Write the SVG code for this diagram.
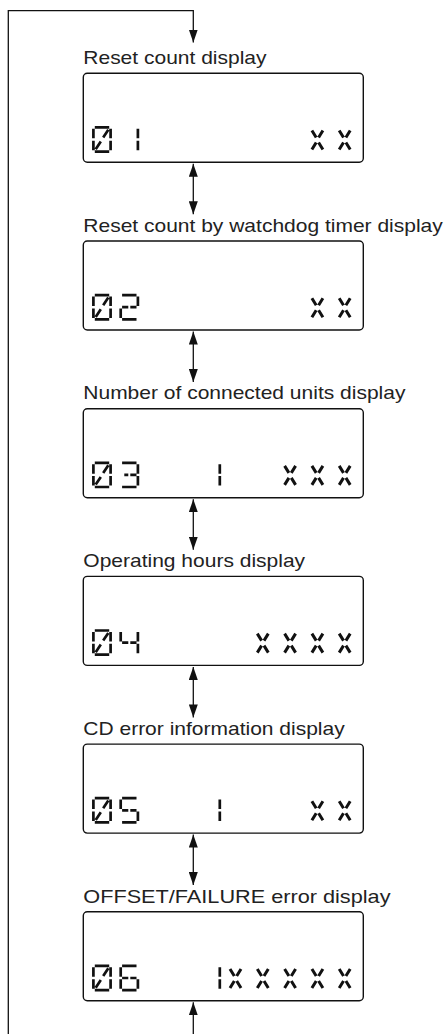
<svg xmlns="http://www.w3.org/2000/svg" xmlns:xlink="http://www.w3.org/1999/xlink" width="447" height="1034" viewBox="0 0 447 1034">
  <style>
    .lbl { font-family: "Liberation Sans", Arial, sans-serif; font-size: 18.6px; fill: #222; }
    .panel { fill: #fff; stroke: #111; stroke-width: 1.4; }
    .seg { stroke: #111; stroke-width: 2.7; stroke-linecap: butt; fill: none; }
    .xseg { stroke: #111; stroke-width: 3; stroke-linecap: butt; fill: none; }
    .wire { stroke: #111; stroke-width: 1.3; fill: none; }
  </style>
  <defs>
    <marker id="arrow" markerUnits="userSpaceOnUse" markerWidth="13" markerHeight="9" viewBox="0 0 13 9" refX="13" refY="4.5" orient="auto-start-reverse">
      <path d="M0,0 L13,4.5 L0,9 z" fill="#111"/>
    </marker>
    <!-- 14-segment LCD cell, 20 x 27 -->
    <g id="d0" class="seg">
      <path d="M2.8,1.4H17.2 M2.8,25.6H17.2 M1.4,2.8V12.3 M1.4,14.7V24.2 M18.6,2.8V12.3 M18.6,14.7V24.2 M16.3,3.8L11.2,11.5 M8.8,15.5L3.7,23.2"/>
    </g>
    <g id="d1" class="seg">
      <path d="M18.6,2.8V12.3 M18.6,14.7V24.2"/>
    </g>
    <g id="d2" class="seg">
      <path d="M2.8,1.4H17.2 M18.6,2.8V12.3 M2.8,13.5H9 M11,13.5H17.2 M1.4,14.7V24.2 M2.8,25.6H17.2"/>
    </g>
    <g id="d3" class="seg">
      <path d="M2.8,1.4H17.2 M18.6,2.8V12.3 M5,13.5H9 M11,13.5H17.2 M18.6,14.7V24.2 M2.8,25.6H17.2"/>
    </g>
    <g id="d4" class="seg">
      <path d="M1.4,2.8V12.3 M2.8,13.5H9 M11,13.5H17.2 M18.6,2.8V12.3 M18.6,14.7V24.2"/>
    </g>
    <g id="d5" class="seg">
      <path d="M2.8,1.4H17.2 M1.4,2.8V12.3 M2.8,13.5H9 M11,13.5H17.2 M18.6,14.7V24.2 M2.8,25.6H17.2"/>
    </g>
    <g id="d6" class="seg">
      <path d="M2.8,1.4H17.2 M1.4,2.8V12.3 M1.4,14.7V24.2 M2.8,13.5H9 M11,13.5H17.2 M18.6,14.7V24.2 M2.8,25.6H17.2"/>
    </g>
    <!-- diagonal-only cell used as the "x" placeholder -->
    <g id="dx" class="xseg">
      <path d="M1.5,4.5L5.8,11.5 M12.5,4.5L8.2,11.5 M5.8,16.5L1.5,23.5 M8.2,16.5L12.5,23.5"/>
    </g>
  </defs>

  <!-- connectors -->
  <g id="connectors">
    <path class="wire" d="M8.3,1034V10.7H193.3V42.5" marker-end="url(#arrow)"/>
    <line class="wire" x1="193.3" y1="163.8" x2="193.3" y2="214.3" marker-start="url(#arrow)" marker-end="url(#arrow)"/>
    <line class="wire" x1="193.3" y1="331.5" x2="193.3" y2="382" marker-start="url(#arrow)" marker-end="url(#arrow)"/>
    <line class="wire" x1="193.3" y1="499.2" x2="193.3" y2="549.7" marker-start="url(#arrow)" marker-end="url(#arrow)"/>
    <line class="wire" x1="193.3" y1="666.9" x2="193.3" y2="717.4" marker-start="url(#arrow)" marker-end="url(#arrow)"/>
    <line class="wire" x1="193.3" y1="834.6" x2="193.3" y2="885.1" marker-start="url(#arrow)" marker-end="url(#arrow)"/>
    <line class="wire" x1="193.3" y1="1034" x2="193.3" y2="1002.3" marker-end="url(#arrow)"/>
  </g>

  <!-- display screens -->
  <g id="reset-count">
    <text class="lbl" x="83.3" y="64" textLength="183.2" lengthAdjust="spacingAndGlyphs">Reset count display</text>
    <rect class="panel" x="83.3" y="73.3" width="280" height="89" rx="4"/>
    <use href="#d0" x="92" y="126"/>
    <use href="#d1" x="119.3" y="126"/>
    <use href="#dx" x="310.4" y="126"/>
    <use href="#dx" x="337.7" y="126"/>
  </g>

  <g id="watchdog-reset-count" transform="translate(0,167.7)">
    <text class="lbl" x="83.3" y="64" textLength="359.5" lengthAdjust="spacingAndGlyphs">Reset count by watchdog timer display</text>
    <rect class="panel" x="83.3" y="73.3" width="280" height="89" rx="4"/>
    <use href="#d0" x="92" y="126"/>
    <use href="#d2" x="119.3" y="126"/>
    <use href="#dx" x="310.4" y="126"/>
    <use href="#dx" x="337.7" y="126"/>
  </g>

  <g id="connected-units" transform="translate(0,335.4)">
    <text class="lbl" x="83.3" y="64" textLength="322.1" lengthAdjust="spacingAndGlyphs">Number of connected units display</text>
    <rect class="panel" x="83.3" y="73.3" width="280" height="89" rx="4"/>
    <use href="#d0" x="92" y="126"/>
    <use href="#d3" x="119.3" y="126"/>
    <use href="#d1" x="201.2" y="126"/>
    <use href="#dx" x="283.1" y="126"/>
    <use href="#dx" x="310.4" y="126"/>
    <use href="#dx" x="337.7" y="126"/>
  </g>

  <g id="operating-hours" transform="translate(0,503.1)">
    <text class="lbl" x="83.3" y="64" textLength="221.8" lengthAdjust="spacingAndGlyphs">Operating hours display</text>
    <rect class="panel" x="83.3" y="73.3" width="280" height="89" rx="4"/>
    <use href="#d0" x="92" y="126"/>
    <use href="#d4" x="119.3" y="126"/>
    <use href="#dx" x="255.8" y="126"/>
    <use href="#dx" x="283.1" y="126"/>
    <use href="#dx" x="310.4" y="126"/>
    <use href="#dx" x="337.7" y="126"/>
  </g>

  <g id="cd-error" transform="translate(0,670.8)">
    <text class="lbl" x="83.3" y="64" textLength="261.4" lengthAdjust="spacingAndGlyphs">CD error information display</text>
    <rect class="panel" x="83.3" y="73.3" width="280" height="89" rx="4"/>
    <use href="#d0" x="92" y="126"/>
    <use href="#d5" x="119.3" y="126"/>
    <use href="#d1" x="201.2" y="126"/>
    <use href="#dx" x="310.4" y="126"/>
    <use href="#dx" x="337.7" y="126"/>
  </g>

  <g id="offset-failure" transform="translate(0,838.5)">
    <text class="lbl" x="83.3" y="64" textLength="307.2" lengthAdjust="spacingAndGlyphs">OFFSET/FAILURE error display</text>
    <rect class="panel" x="83.3" y="73.3" width="280" height="89" rx="4"/>
    <use href="#d0" x="92" y="126"/>
    <use href="#d6" x="119.3" y="126"/>
    <use href="#d1" x="201.2" y="126"/>
    <use href="#dx" x="228.5" y="126"/>
    <use href="#dx" x="255.8" y="126"/>
    <use href="#dx" x="283.1" y="126"/>
    <use href="#dx" x="310.4" y="126"/>
    <use href="#dx" x="337.7" y="126"/>
  </g>
</svg>
